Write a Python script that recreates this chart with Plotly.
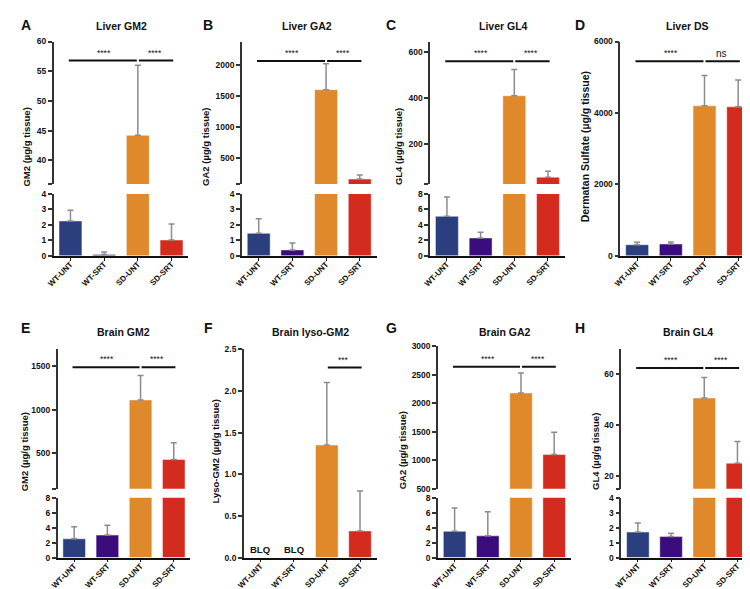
import plotly.graph_objects as go

W, H = 750, 589

groups = ["WT-UNT", "WT-SRT", "SD-UNT", "SD-SRT"]
colors = ["#2b3f7f", "#3a0c7c", "#e0892a", "#d42b1f"]

# means and upper SD for each group
liver_gm2 = [2.25, 0.08, 44.2, 1.02]
liver_gm2_err = [0.7, 0.17, 11.8, 1.03]
liver_ga2 = [1.45, 0.38, 1600, 150]
liver_ga2_err = [0.95, 0.45, 420, 65]
liver_gl4 = [5.1, 2.3, 410, 54]
liver_gl4_err = [2.5, 0.75, 115, 26]
liver_ds = [310, 330, 4200, 4170]
liver_ds_err = [70, 60, 850, 750]
brain_gm2 = [2.5, 3.0, 1110, 430]
brain_gm2_err = [1.6, 1.3, 280, 190]
brain_lyso_gm2 = [None, None, 1.35, 0.32]
brain_lyso_gm2_err = [0, 0, 0.75, 0.48]
brain_ga2 = [3.5, 2.9, 2180, 1100]
brain_ga2_err = [3.1, 3.2, 350, 390]
brain_gl4 = [1.7, 1.4, 50.5, 25]
brain_gl4_err = [0.6, 0.22, 8, 8.5]

# significance brackets: (label, from group, to group, height)
liver_gm2_sig = [("****", 0, 2, 56.8), ("****", 2, 3, 56.8)]
liver_ga2_sig = [("****", 0, 2, 2065), ("****", 2, 3, 2065)]
liver_gl4_sig = [("****", 0, 2, 561), ("****", 2, 3, 561)]
liver_ds_sig = [("****", 0, 2, 5450), ("ns", 2, 3, 5450)]
brain_gm2_sig = [("****", 0, 2, 1484), ("****", 2, 3, 1484)]
brain_lyso_gm2_sig = [("***", 2, 3, 2.28)]
brain_ga2_sig = [("****", 0, 2, 2640), ("****", 2, 3, 2640)]
brain_gl4_sig = [("****", 0, 2, 62.2), ("****", 2, 3, 62.2)]

FONT = "Liberation Sans, Arial, sans-serif"

def fx(p):
    return p / W

def fy(p):
    return 1 - p / H

panels = [
    dict(letter="A", title="Liver GM2", ytitle="GM2 (µg/g tissue)", vals=liver_gm2, err=liver_gm2_err,
         sig=liver_gm2_sig, x=(39, 175), top=29, bot=247, brk=(174, 184),
         up=[36, 60], upt=[36, 40, 45, 50, 55, 60], lo=[0, 4], lot=[0, 1, 2, 3, 4],
         tx=108, lx=4, ttx=12),
    dict(letter="B", title="Liver GA2", ytitle="GA2 (µg/g tissue)", vals=liver_ga2, err=liver_ga2_err,
         sig=liver_ga2_sig, x=(229, 365), top=29, bot=247, brk=(174, 184),
         up=[70, 2380], upt=[70, 500, 1000, 1500, 2000], lo=[0, 4], lot=[0, 1, 2, 3, 4],
         tx=295, lx=188, ttx=192),
    dict(letter="C", title="Liver GL4", ytitle="GL4 (µg/g tissue)", vals=liver_gl4, err=liver_gl4_err,
         sig=liver_gl4_sig, x=(419, 555), top=29, bot=247, brk=(174, 184),
         up=[24, 647], upt=[24, 200, 400, 600], lo=[0, 8], lot=[0, 2, 4, 6, 8],
         tx=493, lx=372, ttx=387),
    dict(letter="D", title="Liver DS", ytitle="Dermatan Sulfate (µg/g tissue)", vals=liver_ds, err=liver_ds_err,
         sig=liver_ds_sig, x=(611, 747), top=29, bot=247, brk=None,
         full=[0, 6000], fullt=[0, 2000, 4000, 6000], tx=679, lx=563, ttx=575, tsize=10.5),
    dict(letter="E", title="Brain GM2", ytitle="GM2 (µg/g tissue)", vals=brain_gm2, err=brain_gm2_err,
         sig=brain_gm2_sig, x=(43, 177), top=342, bot=554, brk=(484, 493),
         up=[95, 1690], upt=[95, 500, 1000, 1500], lo=[0, 8], lot=[0, 2, 4, 6, 8],
         tx=110, lx=4, ttx=10),
    dict(letter="F", title="Brain lyso-GM2", ytitle="Lyso-GM2 (µg/g tissue)", vals=brain_lyso_gm2,
         err=brain_lyso_gm2_err, sig=brain_lyso_gm2_sig, x=(231, 365), top=342, bot=554, brk=None,
         full=[0, 2.5], fullt=[0, 0.5, 1.0, 1.5, 2.0, 2.5], tx=298, lx=189, ttx=202, blq=True),
    dict(letter="G", title="Brain GA2", ytitle="GA2 (µg/g tissue)", vals=brain_ga2, err=brain_ga2_err,
         sig=brain_ga2_sig, x=(427, 561), top=339, bot=554, brk=(484, 493),
         up=[500, 3000], upt=[500, 1000, 1500, 2000, 2500, 3000], lo=[0, 8], lot=[0, 2, 4, 6, 8],
         tx=495, lx=372, ttx=392, showbottom=True),
    dict(letter="H", title="Brain GL4", ytitle="GL4 (µg/g tissue)", vals=brain_gl4, err=brain_gl4_err,
         sig=brain_gl4_sig, x=(612, 746), top=342, bot=554, brk=(484, 493),
         up=[15, 69.6], upt=[15, 20, 40, 60], lo=[0, 4], lot=[0, 1, 2, 3, 4],
         tx=679, lx=563, ttx=586),
]

fig = go.Figure()
layout = {}
annotations = []
shapes = []

tickfont = dict(family=FONT, size=8.5, color="#111", weight="bold")
catfont = dict(family=FONT, size=8, color="#111", weight="bold")

def yaxis_style(rng, tv, tt, dom, xid):
    return dict(domain=dom, range=rng, tickvals=tv, ticktext=tt, anchor=xid, showgrid=False,
                zeroline=False, showline=True, linecolor="#333", linewidth=1.5, ticks="outside",
                ticklen=4, tickwidth=1.5, tickcolor="#333", tickfont=tickfont, fixedrange=True)

def fmt(v, dec=False):
    return f"{v:.1f}" if dec else f"{v:g}"

ax = 0
for i, p in enumerate(panels):
    xi = i + 1
    xid = f"x{xi}"
    xname = f"xaxis{xi}"
    if p["brk"]:
        ax += 1
        up_id = ax
        ax += 1
        lo_id = ax
        upt_text = [fmt(v) for v in p["upt"]]
        if not p.get("showbottom"):
            upt_text[0] = ""
        layout[f"yaxis{up_id}"] = yaxis_style(p["up"], p["upt"], upt_text,
                                              [fy(p["brk"][0]), fy(p["top"])], xid)
        layout[f"yaxis{lo_id}"] = yaxis_style(p["lo"], p["lot"], [fmt(v) for v in p["lot"]],
                                              [fy(p["bot"]), fy(p["brk"][1])], xid)
        segs = [up_id, lo_id]
        sig_y = up_id
        base_y = lo_id
    else:
        ax += 1
        dec = p["fullt"][-1] < 10
        layout[f"yaxis{ax}"] = yaxis_style(p["full"], p["fullt"], [fmt(v, dec) for v in p["fullt"]],
                                           [fy(p["bot"]), fy(p["top"])], xid)
        segs = [ax]
        sig_y = ax
        base_y = ax

    layout[xname] = dict(domain=[fx(p["x"][0]), fx(p["x"][1])], range=[-0.5, 3.5], type="category",
                         anchor=f"y{base_y}", showgrid=False, zeroline=False, showline=True,
                         linecolor="#111", linewidth=1.5, ticks="outside", ticklen=3, tickwidth=1.2,
                         tickcolor="#111", tickangle=-45, tickfont=catfont, ticklabelstandoff=-4,
                         fixedrange=True)

    for s in segs:
        fig.add_trace(go.Bar(
            x=groups, y=p["vals"], xaxis=xid, yaxis=f"y{s}", width=0.68,
            marker=dict(color=colors, line=dict(color="rgba(255,255,255,0.45)", width=1)),
            error_y=dict(type="data", array=p["err"], arrayminus=[0] * 4, symmetric=False,
                         color="#8c8c8c", thickness=1.5, width=3),
            showlegend=False, hoverinfo="x+y",
        ))

    # significance brackets
    for lab, a, b, yv in p["sig"]:
        x0 = a - 0.05 if a == 0 else a + 0.03
        x1 = b - 0.03 if b == 2 else b + 0.05
        shapes.append(dict(type="line", xref=xid, yref=f"y{sig_y}", x0=x0, x1=x1, y0=yv, y1=yv,
                           line=dict(color="#111", width=2)))
        annotations.append(dict(x=(a + b) / 2, y=yv, xref=xid, yref=f"y{sig_y}", text=lab,
                                showarrow=False, yanchor="bottom", yshift=1 if lab != "ns" else 0,
                                font=dict(family=FONT, size=8.5 if lab != "ns" else 10, color="#111")))

    if p.get("blq"):
        for g in (0, 1):
            annotations.append(dict(x=g, y=0, xref=xid, yref=f"y{base_y}", text="BLQ", showarrow=False,
                                    yanchor="bottom", yshift=1,
                                    font=dict(family=FONT, size=9.5, color="#111", weight="bold")))

    annotations.append(dict(x=fx(p["tx"]), y=fy(13 if i < 4 else 325), xref="paper", yref="paper",
                            text=p["title"], showarrow=False, xanchor="center", yanchor="middle",
                            font=dict(family=FONT, size=10.5, color="#111", weight="bold")))
    annotations.append(dict(x=fx(p["lx"]), y=fy(12 if i < 4 else 320), xref="paper", yref="paper",
                            text=p["letter"], showarrow=False, xanchor="left", yanchor="middle",
                            font=dict(family=FONT, size=14, color="#111", weight="bold")))
    annotations.append(dict(x=fx(p["ttx"]), y=fy((p["top"] + p["bot"]) / 2 - 2), xref="paper",
                            yref="paper", text=p["ytitle"], showarrow=False, textangle=-90,
                            xanchor="center", yanchor="middle",
                            font=dict(family=FONT, size=p.get("tsize", 9.5), color="#111", weight="bold")))

fig.update_layout(**layout)
fig.update_layout(
    width=W, height=H, margin=dict(l=0, r=0, t=0, b=0),
    paper_bgcolor="white", plot_bgcolor="white",
    annotations=annotations, shapes=shapes, showlegend=False, bargap=0.3,
)
fig.write_html("out.html")
